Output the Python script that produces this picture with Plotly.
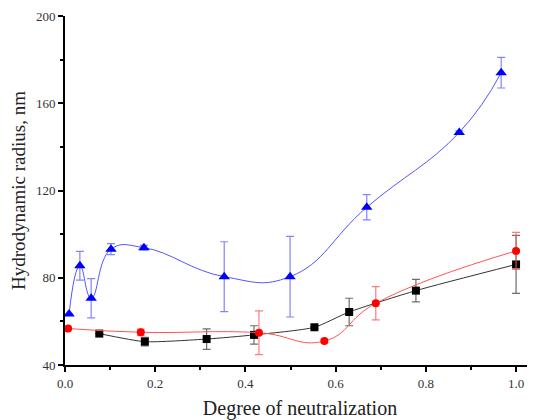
import plotly.graph_objects as go

# Blue triangles
blue_x = [0.009, 0.033, 0.058, 0.102, 0.175, 0.353, 0.499, 0.669, 0.874, 0.967]
blue_y = [63.4, 85.5, 70.6, 93.1, 93.8, 80.5, 80.5, 112.3, 146.6, 174.0]
blue_err = [0, 6.6, 9.0, 2.5, 1.0, 16.0, 18.5, 5.8, 0.8, 7.0]

# Red circles
red_x = [0.007, 0.168, 0.430, 0.575, 0.689, 1.0]
red_y = [56.7, 55.0, 54.8, 51.0, 68.3, 92.3]
red_err = [0, 1.5, 10.0, 0.8, 7.6, 8.5]

# Black squares
black_x = [0.076, 0.177, 0.314, 0.419, 0.553, 0.630, 0.778, 1.0]
black_y = [54.4, 50.7, 51.9, 53.8, 57.3, 64.3, 74.1, 86.1]
black_err = [0, 2.0, 4.7, 4.2, 0.5, 6.3, 5.2, 13.3]

x_ticks = [0.0, 0.2, 0.4, 0.6, 0.8, 1.0]
y_ticks = [40, 80, 120, 160, 200]

fig = go.Figure()

def add_series(x, y, err, line_color, marker_color, err_color, symbol, size, smoothing):
    fig.add_trace(go.Scatter(
        x=x, y=y, mode="lines",
        line=dict(color=line_color, width=1, shape="spline", smoothing=smoothing),
        hoverinfo="skip", showlegend=False))
    fig.add_trace(go.Scatter(
        x=x, y=y, mode="markers",
        marker=dict(color=marker_color, symbol=symbol, size=size, line=dict(width=0)),
        error_y=dict(type="data", array=err, visible=True, color=err_color,
                     thickness=1.2, width=4),
        showlegend=False))

add_series(black_x, black_y, black_err, "#333333", "#000000", "rgba(60,60,60,0.75)", "square", 8, 0.6)
add_series(red_x, red_y, red_err, "#ff5555", "#ff0000", "rgba(255,90,90,0.8)", "circle", 8, 1.3)
add_series(blue_x, blue_y, blue_err, "#5555ff", "#0000ff", "rgba(90,90,255,0.75)", "triangle-up", 10, 1.3)

serif = "Liberation Serif, Times New Roman, serif"

fig.update_layout(
    width=527, height=412,
    margin=dict(l=57, r=0, t=8, b=55),
    paper_bgcolor="white", plot_bgcolor="white",
    font=dict(family=serif, color="#222222"),
    xaxis=dict(
        range=[0, 1.042], tickvals=x_ticks, tickformat=".1f", automargin=False,
        showgrid=False, zeroline=False,
        showline=True, linecolor="black", linewidth=2,
        ticks="outside", ticklen=5, tickwidth=2, tickcolor="black",
        tickfont=dict(size=13, family=serif, color="#333333"),
        minor=dict(dtick=0.1, tick0=0, ticks="outside", ticklen=3, tickwidth=2, tickcolor="black"),
        title=dict(text="Degree of neutralization", font=dict(size=20, family=serif, color="#222222"), standoff=12),
    ),
    yaxis=dict(
        range=[40, 200], tickvals=y_ticks, automargin=False,
        showgrid=False, zeroline=False,
        showline=True, linecolor="black", linewidth=2,
        ticks="outside", ticklen=5, tickwidth=2, tickcolor="black",
        tickfont=dict(size=13, family=serif, color="#333333"),
        minor=dict(dtick=20, tick0=40, ticks="outside", ticklen=3, tickwidth=2, tickcolor="black"),
        title=dict(text="Hydrodynamic radius, nm", font=dict(size=19, family=serif, color="#222222"), standoff=12),
    ),
)

fig.write_html("out.html")
